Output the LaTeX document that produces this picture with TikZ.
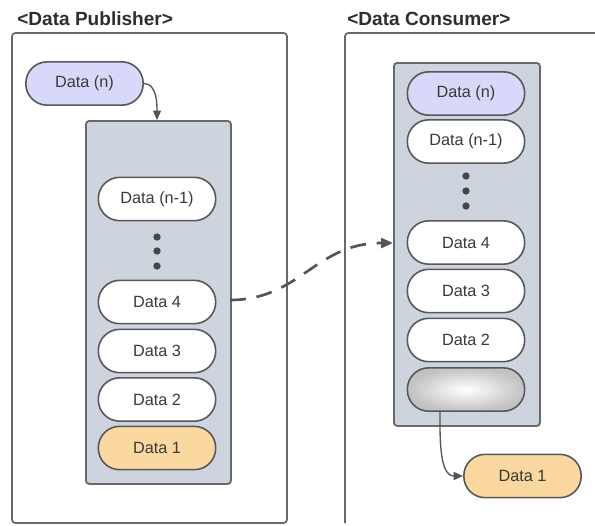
\documentclass[tikz,border=0pt]{standalone}
\usepackage{fontspec}
\setmainfont{Liberation Sans}
\usetikzlibrary{arrows.meta}
\definecolor{panelgray}{RGB}{205,212,222}
\definecolor{edgegray}{RGB}{105,105,105}
\definecolor{pillline}{RGB}{88,88,88}
\definecolor{lavender}{RGB}{216,216,250}
\definecolor{peach}{RGB}{250,216,160}
\definecolor{inkgray}{RGB}{58,58,58}
\definecolor{arrowgray}{RGB}{85,85,85}
\begin{document}
\begin{tikzpicture}[x=0.75pt,y=-0.75pt,
  outerbox/.style={draw=edgegray,line width=1.3pt,rounded corners=2.5pt},
  queuebox/.style={draw=edgegray,fill=panelgray,line width=1.4pt,rounded corners=2.5pt},
  pill/.style={draw=pillline,line width=1.2pt,fill=white,rounded corners=16pt,
    minimum width=88pt,minimum height=32.5pt,inner sep=0pt,
    font=\fontsize{12.2}{14}\selectfont,text=inkgray},
  title/.style={anchor=base west,font=\bfseries\fontsize{14.3}{17}\selectfont,text=inkgray!80!black,inner sep=0pt},
  dot/.style={circle,fill=pillline!80!black,minimum size=5.5pt,inner sep=0pt},
  flow/.style={draw=arrowgray,line width=1pt,-{Triangle[length=7pt,width=6pt]}},
]
\useasboundingbox (0,0) rectangle (595,525);

% titles
\node[title] (tpub) at (17,25) {<Data Publisher>};
\node[title] (tcon) at (347,25) {<Data Consumer>};

% outer frames
\draw[outerbox] (12,33) rectangle (287,523);
\draw[outerbox] (345,523) -- (345,33) -- (600,33);

% publisher side
\node[queuebox,anchor=north west,minimum width=108.75pt,minimum height=272.25pt] (pq) at (85,120) {};
\node[pill,fill=lavender] (pn) at (84.5,83.5) {Data (n)};
\node[pill] (pn1) at (157,199) {Data (n-1)};
\node[dot] (pd1) at (157,237) {};
\node[dot] (pd2) at (157,251) {};
\node[dot] (pd3) at (157,266) {};
\node[pill] (p4) at (157,302) {Data 4};
\node[pill] (p3) at (157,351) {Data 3};
\node[pill] (p2) at (157,399.5) {Data 2};
\node[pill,fill=peach] (p1) at (157,448) {Data 1};

% consumer side
\node[queuebox,anchor=north west,minimum width=109.5pt,minimum height=272.25pt] (cq) at (393,62) {};
\node[pill,fill=lavender] (cn) at (466,93.5) {Data (n)};
\node[pill] (cn1) at (466,141.5) {Data (n-1)};
\node[dot] (cd1) at (466,176) {};
\node[dot] (cd2) at (466,191) {};
\node[dot] (cd3) at (466,206) {};
\node[pill] (c4) at (466,242.5) {Data 4};
\node[pill] (c3) at (466,291) {Data 3};
\node[pill] (c2) at (466,340) {Data 2};
\node[pill,fill=none,shading=radial,inner color=white,outer color=black!24] (cg) at (466,389.5) {};
\node[pill,fill=peach] (c1) at (522.5,476) {Data 1};

% connectors
\coordinate (pqin) at (157,120);
\coordinate (pqout) at (230,300);
\coordinate (cqin) at (393,243);
\coordinate (cgout) at (440,411);
\draw[flow] (pn.east) to[out=0,in=90,looseness=0.9] (pqin);
\draw[flow] (cgout) to[out=-90,in=180,looseness=0.9] (c1.west);
\draw[draw=arrowgray,line width=2pt,dash pattern=on 12pt off 8pt,
  -{Triangle[length=9pt,width=7.5pt]}]
  (pqout) .. controls (300,300) and (315,243) .. (cqin);
\end{tikzpicture}
\end{document}
